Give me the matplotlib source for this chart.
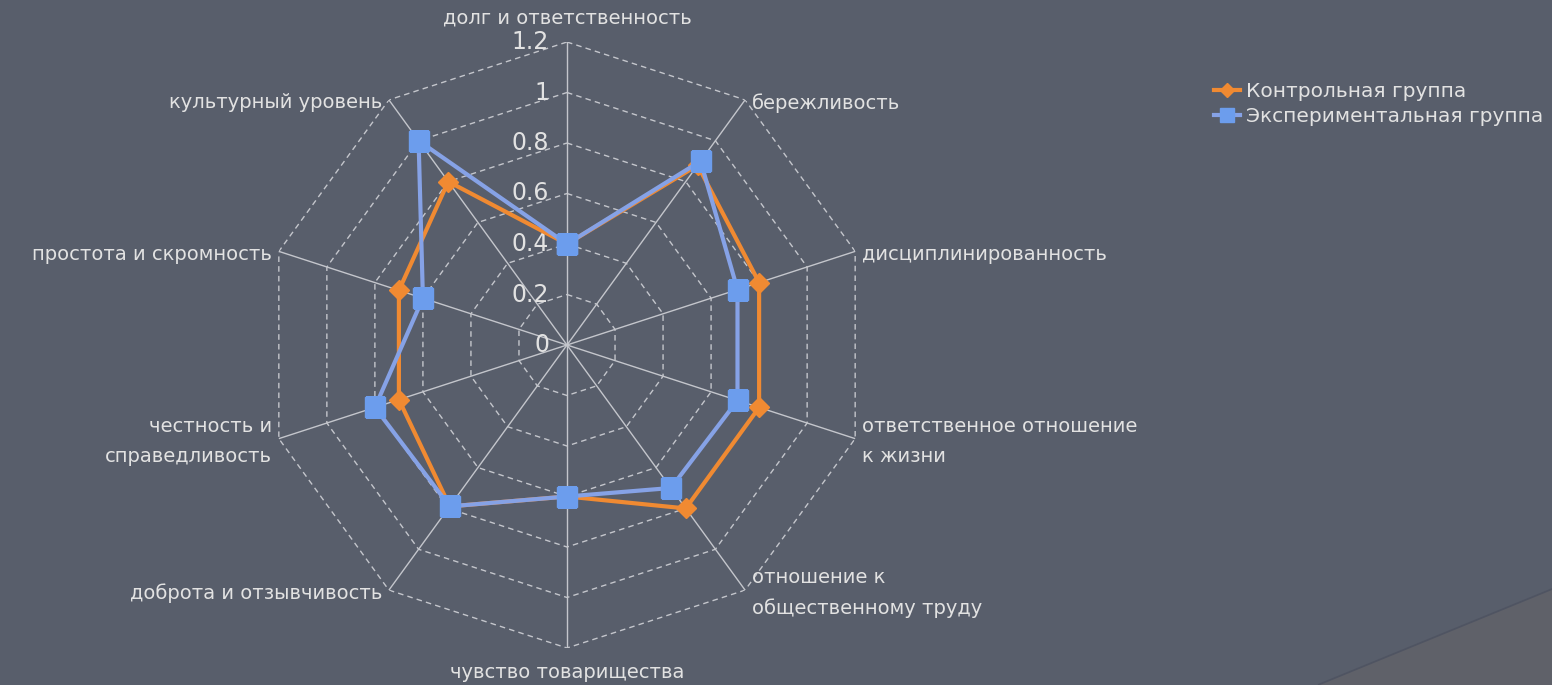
import numpy as np
import matplotlib
matplotlib.use("Agg")
import matplotlib.pyplot as plt
from matplotlib.patches import Polygon
from matplotlib.lines import Line2D

categories = [
    "долг и ответственность",
    "бережливость",
    "дисциплинированность",
    "ответственное отношение\nк жизни",
    "отношение к\nобщественному труду",
    "чувство товарищества",
    "доброта и отзывчивость",
    "честность и\nсправедливость",
    "простота и скромность",
    "культурный уровень",
]
control = [0.4, 0.88, 0.8, 0.8, 0.8, 0.6, 0.79, 0.7, 0.7, 0.8]
experimental = [0.4, 0.9, 0.71, 0.71, 0.7, 0.6, 0.79, 0.8, 0.6, 1.0]
series_names = ["Контрольная группа", "Экспериментальная группа"]
r_ticks = [0, 0.2, 0.4, 0.6, 0.8, 1.0, 1.2]
r_tick_labels = ["0", "0.2", "0.4", "0.6", "0.8", "1", "1.2"]

BG = "#585e6b"
TEXT = "#e2e2e2"
GRID = "#c4c6cc"
ORANGE = "#f08a32"
BLUE = "#6c9ded"
BLUE_LINE = "#86a2e6"

W, H = 1552, 685
fig = plt.figure(figsize=(W / 100, H / 100), dpi=100, facecolor=BG)

# slide decoration in the lower right corner
fig.patches.append(Polygon([(1320 / W, 0), (1.0, 95 / H), (1.0, 0)], closed=True,
                           transform=fig.transFigure, facecolor="#5f6169",
                           edgecolor="none", zorder=0))
fig.lines.append(Line2D([1320 / W, 1.0], [0, 95 / H], transform=fig.transFigure,
                        color="#4f5462", lw=2.5, zorder=0))

cx, cy, rad = 567, 345, 303
ax = fig.add_axes([(cx - rad) / W, (H - cy - rad) / H, 2 * rad / W, 2 * rad / H],
                  projection="polar")
ax.set_theta_offset(np.pi / 2)
ax.set_theta_direction(-1)
ax.set_ylim(0, 1.2)
ax.grid(False)
ax.set_xticks([])
ax.set_yticks([])
ax.spines["polar"].set_visible(False)
ax.patch.set_alpha(0)

n = len(categories)
angles = np.arange(n) * 2 * np.pi / n
closed = np.append(angles, angles[0])

# spokes
for a in angles:
    ax.plot([a, a], [0, r_ticks[-1]], color=GRID, lw=1.0, zorder=1)
# polygon rings
for r in r_ticks[1:]:
    ax.plot(closed, [r] * (n + 1), color=GRID, lw=1.0, ls=(0, (4, 3)), zorder=1)

# radial tick labels
for r, lab in zip(r_ticks, r_tick_labels):
    ax.annotate(lab, xy=(0, r), xytext=(-18, 0), textcoords="offset pixels",
                ha="right", va="center", fontsize=17, color=TEXT, zorder=2)

# category labels
for a, lab in zip(angles, categories):
    sx, sy = np.sin(a), np.cos(a)
    if abs(sx) < 0.1:
        ha = "center"
        off = (0, 24) if sy > 0 else (0, -25)
    else:
        ha = "left" if sx > 0 else "right"
        off = (7 if sx > 0 else -7, -3)
    ax.annotate(lab, xy=(a, r_ticks[-1]), xytext=off, textcoords="offset pixels",
                ha=ha, va="center", multialignment=ha if ha != "center" else "center",
                fontsize=14, color=TEXT, linespacing=1.7, annotation_clip=False)

ax.plot(closed, np.append(control, control[0]), color=ORANGE, lw=3, marker="D",
        ms=10, mfc=ORANGE, mec=ORANGE, zorder=4, label=series_names[0])
ax.plot(closed, np.append(experimental, experimental[0]), color=BLUE_LINE, lw=3,
        marker="s", ms=14, mfc=BLUE, mec=BLUE, zorder=5, label=series_names[1])

fig.legend(loc="upper left", bbox_to_anchor=(1196 / W, 1 - 64 / H), frameon=False,
           fontsize=14.5, labelcolor=TEXT, handlelength=1.3, handletextpad=0.3,
           labelspacing=0.3, markerscale=0.75)

fig.savefig("out.png", dpi=100, facecolor=BG)
